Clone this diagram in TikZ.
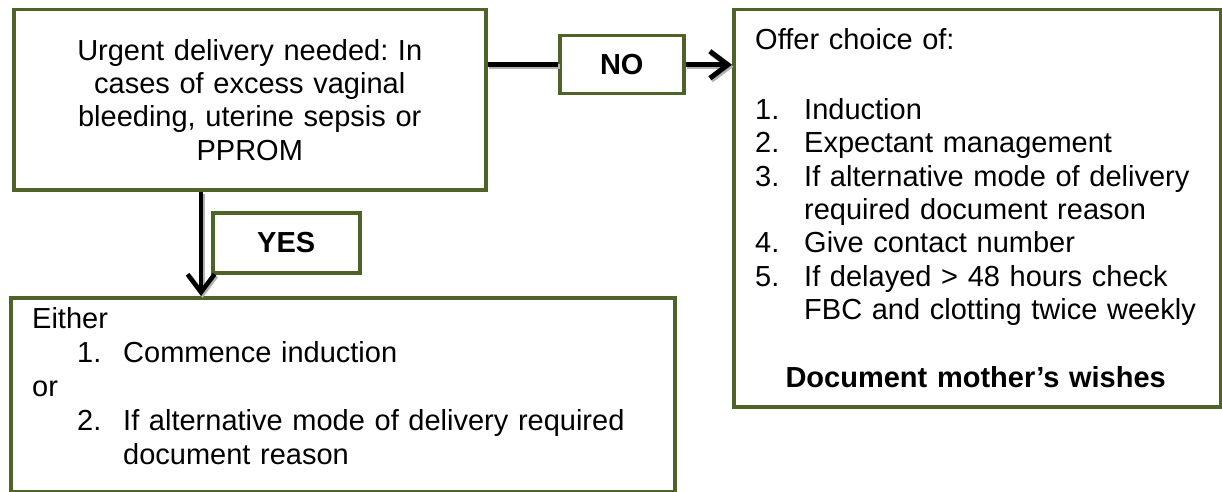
\documentclass[tikz,border=0pt]{standalone}
\usepackage{fontspec}
\setmainfont{Liberation Sans}
\usetikzlibrary{positioning,arrows.meta}

\definecolor{boxgreen}{RGB}{79,98,40}
\newcommand{\numitem}[2]{\makebox[49pt][l]{#1}#2}
\newcommand{\contline}[1]{\hspace*{49pt}#1}

\tikzset{
  flowbox/.style={draw=boxgreen, line width=3.5pt, rectangle, anchor=north west, inner sep=0pt},
  tagbox/.style={flowbox, font=\fontsize{29}{33}\selectfont\bfseries},
  textblk/.style={anchor=north west, inner sep=0pt, align=left},
  link/.style={line width=5pt, black,
    preaction={draw=black!30, line width=5pt, transform canvas={shift={(1.5pt,-2pt)}}}},
  tip/.style={-{Straight Barb[length=18pt,width=27pt]}}
}

\begin{document}
\frenchspacing
\begin{tikzpicture}[x=1pt, y=-1pt, font=\fontsize{29}{33.3}\selectfont]
  \useasboundingbox (0,0) rectangle (1222,492);

  % Boxes:
  \node[flowbox, minimum width=472pt, minimum height=180pt, text width=460pt, align=center] (urgent) at (12,8)
    {Urgent delivery needed: In\\ cases of excess vaginal\\ bleeding, uterine sepsis or\\ PPROM};
  \node[tagbox, minimum width=124pt, minimum height=58pt] (no) at (558,34) {NO};
  \node[tagbox, minimum width=147pt, minimum height=60pt] (yes) at (211,211) {YES};
  \node[flowbox, minimum width=487pt, minimum height=397pt] (offer) at (732,8) {};
  \node[flowbox, minimum width=664pt, minimum height=194pt] (either) at (9,296) {};

  % Texts of the two list boxes:
  \node[textblk, text width=441pt] (offertxt) at (755,28)
    {Offer choice of:\\[37pt]
     \numitem{1.}{Induction}\\
     \numitem{2.}{Expectant management}\\
     \numitem{3.}{If alternative mode of delivery}\\
     \contline{required document reason}\\
     \numitem{4.}{Give contact number}\\
     \numitem{5.}{If delayed > 48 hours check}\\
     \contline{FBC and clotting twice weekly}\\[35pt]
     \makebox[441pt][c]{\bfseries Document mother’s wishes}};
  \node[textblk, text width=620pt, font=\fontsize{29}{34}\selectfont] (eithertxt) at (32,307)
    {Either\\
     \hspace*{45pt}\makebox[46pt][l]{1.}Commence induction\\
     or\\
     \hspace*{45pt}\makebox[46pt][l]{2.}If alternative mode of delivery required\\
     \hspace*{91pt}document reason};

  % Connectors:
  \coordinate (drop) at ([xshift=189pt]urgent.south west);
  \draw[link] (no.west -| urgent.east) -- (no.west);
  \draw[link, tip] (no.east) -- (no.east -| offer.west);
  \draw[link, line width=4.5pt, tip] (drop) -- (drop |- either.north);
\end{tikzpicture}
\end{document}
